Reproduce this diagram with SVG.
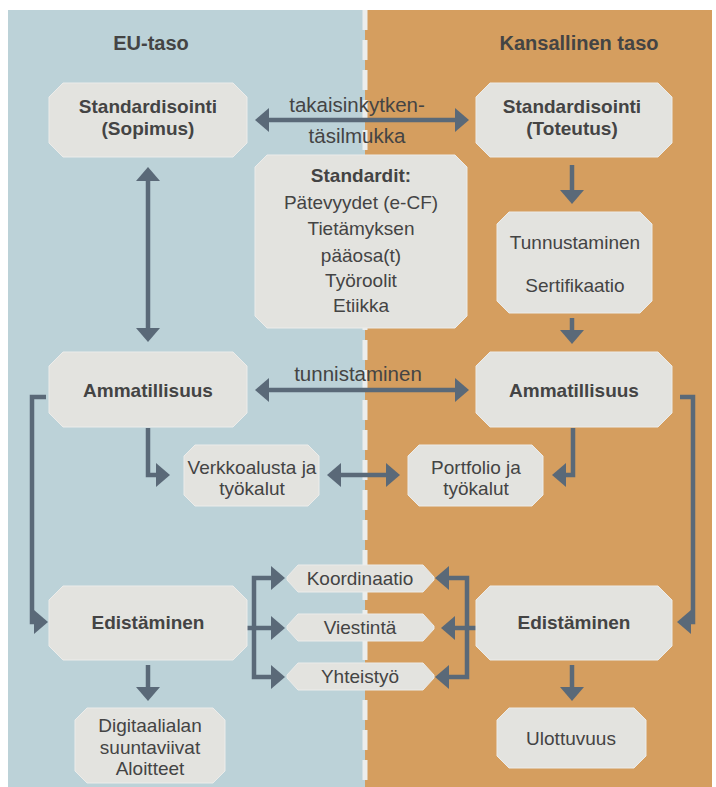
<svg xmlns="http://www.w3.org/2000/svg" width="716" height="787" viewBox="0 0 716 787">
<defs>
<marker id="ah" markerUnits="userSpaceOnUse" markerWidth="15" markerHeight="24" refX="1" refY="12" orient="auto-start-reverse" viewBox="0 0 15 24">
<path d="M0,0 L14,12 L0,24 Z" fill="#5a6978"/>
</marker>
<style>
.box{fill:#e3e3df;stroke:#ececea;stroke-width:1}
.t{font-family:"Liberation Sans",Arial,sans-serif;font-size:19px;fill:#444;text-anchor:middle}
.b{font-weight:bold}
.l{font-size:20.5px}
.h{font-family:"Liberation Sans",Arial,sans-serif;font-size:20px;font-weight:bold;fill:#444;text-anchor:middle}
.ca{fill:none;stroke:#5a6978;stroke-width:4.5;marker-end:url(#ah)}
.cd{fill:none;stroke:#5a6978;stroke-width:4.5;marker-start:url(#ah);marker-end:url(#ah)}
</style>
</defs>
<rect x="0" y="0" width="716" height="787" fill="#ffffff"/>
<rect x="8" y="10" width="357" height="777" fill="#bcd2d8"/>
<rect x="365" y="10" width="347" height="777" fill="#d59e5f"/>
<line x1="365" y1="10" x2="365" y2="787" stroke="#eceeed" stroke-width="5" stroke-dasharray="20 10"/>

<text class="h" x="151" y="50">EU-taso</text>
<text class="h" x="579" y="50">Kansallinen taso</text>

<g id="connectors">
<path class="cd" d="M268,120 H456"/>
<path class="cd" d="M148,180 V329"/>
<path class="ca" d="M572,165 V191"/>
<path class="ca" d="M572,318 V331"/>
<path class="cd" d="M268,390 H456"/>
<path class="ca" d="M148,428 V475 H157"/>
<path class="ca" d="M573,428 V475 H565"/>
<path class="cd" d="M340,475 H387"/>
<path class="ca" d="M46,397 H32 V622 H35"/>
<path class="ca" d="M680,397 H693 V622 H690"/>
<path class="cd" d="M272,578 H254 V677 H272"/>
<path class="ca" d="M247,628 H272"/>
<path class="cd" d="M448,578 H467 V677 H448"/>
<path class="ca" d="M476,628 H454"/>
<path class="ca" d="M148,665 V688"/>
<path class="ca" d="M572,665 V688"/>
<text class="t l" x="357" y="112">takaisinkytken-</text>
<text class="t l" x="357" y="143">täsilmukka</text>
<text class="t l" x="358" y="381">tunnistaminen</text>
</g>

<g id="std-sopimus">
<polygon class="box" points="63,83 233,83 247,97 247,143 233,157 63,157 49,143 49,97"/>
<text class="t b" x="148" y="113">Standardisointi</text>
<text class="t b" x="148" y="135">(Sopimus)</text>
</g>
<g id="std-toteutus">
<polygon class="box" points="490,83 658,83 672,97 672,143 658,157 490,157 476,143 476,97"/>
<text class="t b" x="572" y="113">Standardisointi</text>
<text class="t b" x="572" y="135">(Toteutus)</text>
</g>
<g id="standardit">
<polygon class="box" points="267,155 455,155 467,167 467,316 455,328 267,328 255,316 255,167"/>
<text class="t b" x="361" y="182">Standardit:</text>
<text class="t" x="361" y="209">Pätevyydet (e-CF)</text>
<text class="t" x="361" y="235">Tietämyksen</text>
<text class="t" x="361" y="262">pääosa(t)</text>
<text class="t" x="361" y="287">Työroolit</text>
<text class="t" x="361" y="312">Etiikka</text>
</g>
<g id="tunnustaminen">
<polygon class="box" points="509,212 640,212 652,224 652,301 640,313 509,313 497,301 497,224"/>
<text class="t" x="575" y="249">Tunnustaminen</text>
<text class="t" x="575" y="292">Sertifikaatio</text>
</g>
<g id="amm-eu">
<polygon class="box" points="63,352 233,352 247,366 247,413 233,427 63,427 49,413 49,366"/>
<text class="t b" x="148" y="397">Ammatillisuus</text>
</g>
<g id="amm-kans">
<polygon class="box" points="490,352 658,352 672,366 672,413 658,427 490,427 476,413 476,366"/>
<text class="t b" x="574" y="397">Ammatillisuus</text>
</g>
<g id="verkkoalusta">
<polygon class="box" points="195,445 308,445 319,456 319,495 308,506 195,506 184,495 184,456"/>
<text class="t" x="252" y="474">Verkkoalusta ja</text>
<text class="t" x="252" y="495">työkalut</text>
</g>
<g id="portfolio">
<polygon class="box" points="419,445 532,445 543,456 543,495 532,506 419,506 408,495 408,456"/>
<text class="t" x="476" y="474">Portfolio ja</text>
<text class="t" x="476" y="495">työkalut</text>
</g>
<g id="edist-eu">
<polygon class="box" points="63,586 233,586 247,600 247,646 233,660 63,660 49,646 49,600"/>
<text class="t b" x="148" y="629">Edistäminen</text>
</g>
<g id="edist-kans">
<polygon class="box" points="490,586 658,586 672,600 672,646 658,660 490,660 476,646 476,600"/>
<text class="t b" x="574" y="629">Edistäminen</text>
</g>
<g id="koordinaatio">
<polygon class="box" points="298,565 423,565 434,577 434,580 423,592 298,592 287,580 287,577"/>
<text class="t" x="360" y="585">Koordinaatio</text>
</g>
<g id="viestinta">
<polygon class="box" points="298,614 423,614 434,626 434,629 423,641 298,641 287,629 287,626"/>
<text class="t" x="360" y="634">Viestintä</text>
</g>
<g id="yhteistyo">
<polygon class="box" points="298,663 423,663 434,675 434,678 423,690 298,690 287,678 287,675"/>
<text class="t" x="360" y="683">Yhteistyö</text>
</g>
<g id="digitaalialan">
<polygon class="box" points="87,708 213,708 225,720 225,771 213,783 87,783 75,771 75,720"/>
<text class="t" x="150" y="732">Digitaalialan</text>
<text class="t" x="150" y="754">suuntaviivat</text>
<text class="t" x="150" y="775">Aloitteet</text>
</g>
<g id="ulottuvuus">
<polygon class="box" points="509,708 634,708 646,720 646,756 634,768 509,768 497,756 497,720"/>
<text class="t" x="571" y="745">Ulottuvuus</text>
</g>
</svg>
